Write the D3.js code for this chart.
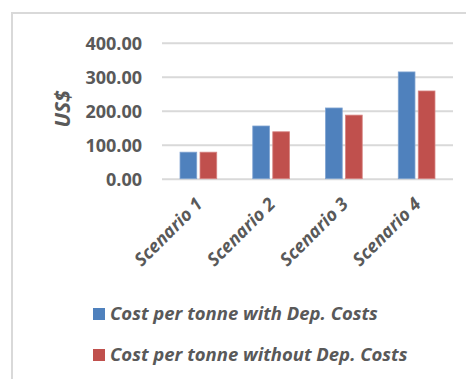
<!DOCTYPE html>
<html>
<head>
<meta charset="utf-8">
<script src="https://cdn.jsdelivr.net/npm/d3@7/dist/d3.min.js"></script>
<style>
  html, body { margin: 0; padding: 0; background: #fff; }
  svg { display: block; }
  text { font-family: "Open Sans", "Liberation Sans", sans-serif; fill: #595959; }
</style>
</head>
<body>
<svg id="chart" width="466" height="379"></svg>
<script>
// Chart data
const categories = ["Scenario 1", "Scenario 2", "Scenario 3", "Scenario 4"];
const seriesNames = ["Cost per tonne with Dep. Costs", "Cost per tonne without Dep. Costs"];
const withDep = [78, 155, 208, 314];
const withoutDep = [78, 138, 187, 258];
const yTicks = [0, 100, 200, 300, 400];
const colors = ["#4f81bd", "#c0504d"];

const svg = d3.select("#chart");

// Outer chart frame (only top and left edges fall inside the view)
svg.append("rect")
  .attr("x", 12).attr("y", 13)
  .attr("width", 470).attr("height", 400)
  .attr("fill", "none")
  .attr("stroke", "#d9d9d9")
  .attr("stroke-width", 2);

const plot = { left: 162, right: 453, top: 42.7, bottom: 178.7 };

const x = d3.scaleBand()
  .domain(categories)
  .range([plot.left, plot.right])
  .paddingInner(0).paddingOuter(0);

const y = d3.scaleLinear()
  .domain([0, 400])
  .range([plot.bottom, plot.top]);

// Gridlines and value labels
const yAxis = d3.axisLeft(y)
  .tickValues(yTicks)
  .tickSize(-(plot.right - plot.left))
  .tickFormat(d3.format(".2f"));

const gy = svg.append("g")
  .attr("transform", `translate(${plot.left},0)`)
  .call(yAxis);
gy.select(".domain").remove();
gy.selectAll(".tick line")
  .attr("stroke", "#d9d9d9")
  .attr("stroke-width", 2);
gy.selectAll(".tick text")
  .attr("x", -20)
  .attr("dy", "0.36em")
  .style("font-size", "18px")
  .style("font-weight", "bold")
  .style("fill", "#595959");

// Bars
const data = categories.map((c, i) => ({ cat: c, vals: [withDep[i], withoutDep[i]] }));
const barW = 16.7, gap = 3.3;
const groups = svg.append("g").selectAll("g")
  .data(data).join("g")
  .attr("transform", d => `translate(${x(d.cat) + x.bandwidth() / 2},0)`);

groups.selectAll("rect")
  .data(d => d.vals.map((v, k) => ({ v, k })))
  .join("rect")
  .attr("x", d => d.k === 0 ? -(barW + gap / 2) : gap / 2)
  .attr("y", d => y(d.v))
  .attr("width", barW)
  .attr("height", d => y(0) - y(d.v))
  .attr("fill", d => colors[d.k])
  .attr("stroke", d => d.k === 0 ? "#7fa3d1" : "#d68381")
  .attr("stroke-width", 0.8);

// Category labels, rotated
const xAxis = d3.axisBottom(x).tickSize(0);
const gx = svg.append("g")
  .attr("transform", `translate(0,${plot.bottom})`)
  .call(xAxis);
gx.select(".domain").remove();
gx.selectAll(".tick text")
  .attr("text-anchor", "end")
  .attr("transform", "translate(1,22) rotate(-45)")
  .attr("x", 0).attr("y", 0).attr("dy", "0.35em")
  .style("font-size", "18px")
  .style("font-style", "italic")
  .style("font-weight", "bold")
  .style("fill", "#595959");

// Y axis title
svg.append("text")
  .attr("transform", "translate(70,109) rotate(-90)")
  .attr("text-anchor", "middle")
  .style("font-size", "21px")
  .style("font-style", "italic")
  .style("font-weight", "bold")
  .text("US$");

// Legend
const legend = svg.append("g");
const legendRows = legend.selectAll("g")
  .data(seriesNames).join("g")
  .attr("transform", (d, i) => `translate(93,${308 + i * 41})`);
legendRows.append("rect")
  .attr("width", 12).attr("height", 12)
  .attr("fill", (d, i) => colors[i]);
legendRows.append("text")
  .attr("x", 17).attr("y", 12)
  .style("font-size", "18.5px")
  .style("font-style", "italic")
  .style("font-weight", "bold")
  .text(d => d);
</script>
</body>
</html>
